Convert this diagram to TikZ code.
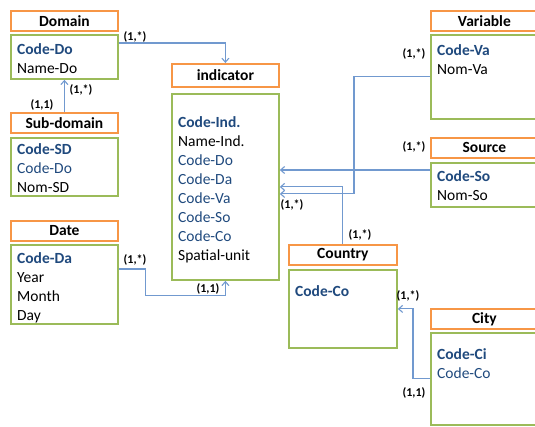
\documentclass[tikz,border=0pt]{standalone}
\usepackage{fontspec}
\setmainfont{Carlito}
\usetikzlibrary{arrows.meta}
\definecolor{orgC}{HTML}{F79646}
\definecolor{grnC}{HTML}{9BBB59}
\definecolor{txtB}{HTML}{1F497D}
\definecolor{lnB}{HTML}{7199CF}
\tikzset{
  hdr/.style={draw=orgC, line width=1.8pt, minimum width=107pt, minimum height=20pt, anchor=north west, inner sep=0pt, font=\fontsize{15.5}{19}\selectfont\bfseries},
  bdy/.style={draw=grnC, line width=1.8pt, minimum width=107pt, anchor=north west, inner sep=0pt},
  attr/.style={anchor=north west, align=left, inner sep=0pt, font=\fontsize{15.5}{19}\selectfont},
  card/.style={inner sep=0pt, font=\fontsize{12}{14}\selectfont\bfseries},
  conn/.style={draw=lnB, line width=1.1pt, -{Straight Barb[length=4pt,width=7pt]}},
}
\newcommand{\ks}[1]{\textcolor{txtB}{\textbf{#1}}}
\newcommand{\fk}[1]{\textcolor{txtB}{#1}}
\newcommand{\fl}{\rule{0pt}{12pt}}
\begin{document}
\begin{tikzpicture}[x=1pt,y=1pt]
\useasboundingbox (0,0) rectangle (535,426);
% Domain
\node[hdr] (domh) at (10,416) {Domain};
\node[bdy, minimum height=44pt] (dom) at (10,392) {};
\node[attr] (domt) at (17,384) {\fl\ks{Code-Do}\\Name-Do};
% Sub-domain
\node[hdr] (subh) at (10,314) {Sub-domain};
\node[bdy, minimum height=58pt] (sub) at (10,289) {};
\node[attr] (subt) at (17,284) {\fl\ks{Code-SD}\\\fk{Code-Do}\\Nom-SD};
% Date
\node[hdr] (dath) at (10,206) {Date};
\node[bdy, minimum height=79pt] (dat) at (10,182) {};
\node[attr] (datt) at (17,175) {\fl\ks{Code-Da}\\Year\\Month\\Day};
% indicator
\node[hdr, minimum height=23pt] (indh) at (171,363) {indicator};
\node[bdy, minimum height=186pt] (ind) at (171,333) {};
\node[attr] (indt) at (178,311) {\fl\ks{Code-Ind.}\\Name-Ind.\\\fk{Code-Do}\\\fk{Code-Da}\\\fk{Code-Va}\\\fk{Code-So}\\\fk{Code-Co}\\Spatial-unit};
% Variable
\node[hdr, minimum width=110pt] (varh) at (430,416) {\hspace*{-3pt}Variable};
\node[bdy, minimum width=110pt, minimum height=84pt] (var) at (430,392) {};
\node[attr] (vart) at (437,383) {\fl\ks{Code-Va}\\Nom-Va};
% Source
\node[hdr, minimum width=110pt] (srch) at (430,289) {\hspace*{-3pt}Source};
\node[bdy, minimum width=110pt, minimum height=44pt] (src) at (430,264) {};
\node[attr] (srct) at (437,257) {\fl\ks{Code-So}\\Nom-So};
% Country
\node[hdr, minimum width=108pt] (couh) at (288,182) {Country};
\node[bdy, minimum width=108pt, minimum height=78pt] (cou) at (288,157) {};
\node[attr] (cout) at (295,142) {\fl\ks{Code-Co}};
% City
\node[hdr, minimum width=110pt] (cith) at (430,118) {\hspace*{-3pt}City};
\node[bdy, minimum width=110pt, minimum height=92pt] (cit) at (430,94) {};
\node[attr] (citt) at (437,79) {\fl\ks{Code-Ci}\\\fk{Code-Co}};
% connectors
\draw[conn] ([yshift=-9pt]dom.north east) -| (indh.north);
\draw[conn] (subh.north) -- (dom.south);
\draw[conn] ([yshift=-25pt]dat.north east) -- ++(27pt,0) |- ([yshift=-15pt]ind.south) -- (ind.south);
\draw[conn] (var.west) -- ++(-76pt,0) |- ([yshift=-7pt]ind.east);
\draw[conn] ([yshift=-8pt]src.north west) coordinate (s1) -- (s1 -| ind.east);
\draw[conn] (couh.north) |- (ind.east);
\draw[conn] (cit.west) -- ++(-17pt,0) |- (cou.east);
% cardinalities
\node[card] (c1) at (135,389) {(1,*)};
\node[card] (c2) at (81,336) {(1,*)};
\node[card] (c3) at (42,321) {(1,1)};
\node[card] (c4) at (135,166) {(1,*)};
\node[card] (c5) at (208,137) {(1,1)};
\node[card] (c6) at (414,372) {(1,*)};
\node[card] (c7) at (414,279) {(1,*)};
\node[card] (c8) at (292,221) {(1,*)};
\node[card] (c9) at (360,191) {(1,*)};
\node[card] (c10) at (408,130) {(1,*)};
\node[card] (c11) at (414,33) {(1,1)};
\end{tikzpicture}
\end{document}
